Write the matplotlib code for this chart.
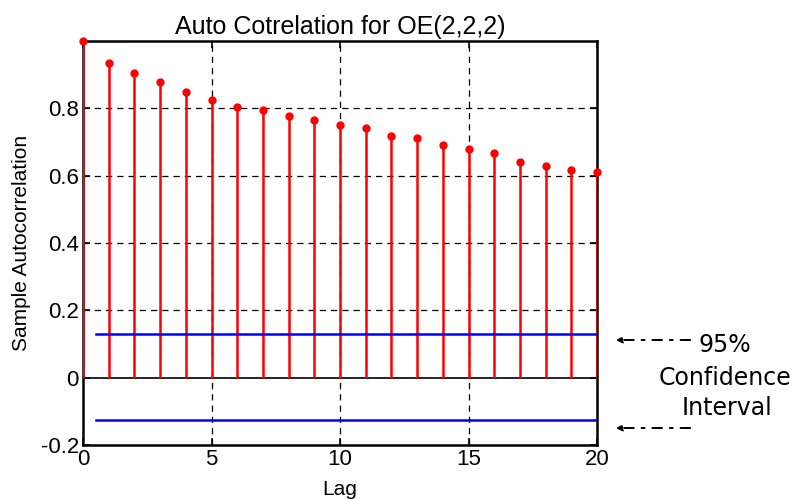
import matplotlib
matplotlib.use("Agg")
import matplotlib.pyplot as plt
import numpy as np

lags = list(range(0, 21))
acf = [1.0, 0.936, 0.906, 0.877, 0.849, 0.825, 0.805, 0.794, 0.776, 0.765,
       0.751, 0.741, 0.719, 0.713, 0.691, 0.680, 0.667, 0.642, 0.629, 0.617, 0.611]
conf_upper = 0.129
conf_lower = -0.126
conf_span = [0.5, 20]
xticks = [0, 5, 10, 15, 20]
yticks = [-0.2, 0, 0.2, 0.4, 0.6, 0.8]
ytick_labels = ["-0.2", "0", "0.2", "0.4", "0.6", "0.8"]

plt.rcParams['font.family'] = ['Liberation Sans', 'DejaVu Sans']

fig = plt.figure(figsize=(7.99, 5.0), dpi=100)
ax = fig.add_axes([83/799, 1-445/500, (597-83)/799, (445-41)/500])

ax.set_xlim(0, 20)
ax.set_ylim(-0.2, 1.0)

# grid
for xv in xticks[1:-1]:
    ax.axvline(xv, color='black', lw=0.9, ls=(0, (5, 4)), zorder=1)
for yv in yticks[2:]:
    ax.axhline(yv, color='black', lw=0.9, ls=(0, (5, 4)), zorder=1)

# stems
ax.vlines(lags, 0, acf, color='#ff0000', lw=1.8, zorder=3)
ax.plot(lags, acf, 'o', color='#ff0000', ms=5, zorder=4, clip_on=False)
ax.axhline(0, color='black', lw=1.2, zorder=2)

# confidence bounds
ax.plot(conf_span, [conf_upper, conf_upper], color='#0000ff', lw=1.8, zorder=3)
ax.plot(conf_span, [conf_lower, conf_lower], color='#0000ff', lw=1.8, zorder=3)

ax.set_xticks(xticks)
ax.set_yticks(yticks)
ax.set_yticklabels(ytick_labels)
ax.tick_params(direction='in', length=5, width=1.2, labelsize=16,
               top=True, right=True, pad=3)
for s in ax.spines.values():
    s.set_linewidth(1.8)

ax.set_title("Auto Cotrelation for OE(2,2,2)", fontsize=18, pad=5)
ax.set_xlabel("Lag", fontsize=15, labelpad=7)
ax.set_ylabel("Sample Autocorrelation", fontsize=15, labelpad=7)

# annotations
ax.annotate("", xy=(613/799, 1-340/500), xycoords='figure fraction',
            xytext=(693/799, 1-340/500), textcoords='figure fraction',
            arrowprops=dict(arrowstyle='-|>', color='black', lw=1.4,
                            ls=(0, (5, 4, 1.5, 4)), mutation_scale=9))
ax.annotate("", xy=(613/799, 1-428/500), xycoords='figure fraction',
            xytext=(693/799, 1-428/500), textcoords='figure fraction',
            arrowprops=dict(arrowstyle='-|>', color='black', lw=1.4,
                            ls=(0, (5, 4, 1.5, 4)), mutation_scale=9))
fig.text(725/799, 1-345/500, "95%", ha='center', va='center', fontsize=17,
         family=['DejaVu Sans'])
fig.text(725/799, 1-378/500, "Confidence", ha='center', va='center', fontsize=17,
         family=['DejaVu Sans'])
fig.text(727/799, 1-408/500, "Interval", ha='center', va='center', fontsize=17,
         family=['DejaVu Sans'])

fig.savefig("out.png", dpi=100)
